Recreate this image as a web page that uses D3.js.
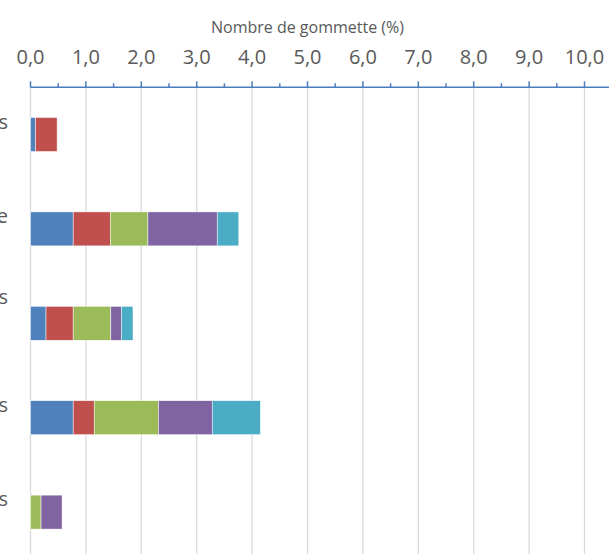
<!DOCTYPE html>
<html>
<head>
<meta charset="utf-8">
<script src="https://cdn.jsdelivr.net/npm/d3@7"></script>
<style>
  body { margin: 0; background: #fff; }
  text { font-family: "Open Sans", sans-serif; fill: #595959; }
</style>
</head>
<body>
<script>
// data
var categories = [
  ['Activités manuelles', 'et jeux'],
  ['Travail en autonomie', 'sur fiche'],
  ['Ateliers dirigés', 'en petits', 'groupes'],
  ['Regroupements', 'collectifs'],
  ['Temps de repas', 'et siestes']
];
var seriesNames = ['Série 1', 'Série 2', 'Série 3', 'Série 4', 'Série 5'];
var serie1 = [0.09, 0.77, 0.28, 0.77, 0];
var serie2 = [0.39, 0.67, 0.49, 0.38, 0];
var serie3 = [0, 0.68, 0.68, 1.16, 0.19];
var serie4 = [0, 1.25, 0.19, 0.97, 0.38];
var serie5 = [0, 0.39, 0.21, 0.87, 0];
var tickValues = [0, 1, 2, 3, 4, 5, 6, 7, 8, 9, 10, 11];
var colors = ['#4f81bd', '#c0504d', '#9bbb59', '#8064a2', '#4bacc6'];

// size
var width = 609, height = 554;
var margin = {top: 87.3, left: 30.5};

var svg = d3.select('body').append('svg')
    .attr('width', width)
    .attr('height', height);

// table for the stack
var table = categories.map(function(c, i) {
  return {cat: i, s0: serie1[i], s1: serie2[i], s2: serie3[i], s3: serie4[i], s4: serie5[i]};
});
var stack = d3.stack().keys(['s0', 's1', 's2', 's3', 's4']);
var layers = stack(table);

var x = d3.scaleLinear().domain([0, 11]).range([margin.left, margin.left + 55.4 * 11]);
var y = d3.scaleBand()
    .domain(d3.range(categories.length))
    .range([margin.top, margin.top + 94.4 * 5])
    .paddingInner(0.64)
    .paddingOuter(0.32);

// gridlines
svg.append('g')
  .selectAll('line')
  .data(tickValues)
  .enter().append('line')
    .attr('x1', function(d) { return x(d); })
    .attr('x2', function(d) { return x(d); })
    .attr('y1', margin.top)
    .attr('y2', height)
    .style('stroke', '#d9d9d9')
    .style('stroke-width', 1.25);

// bars
svg.selectAll('.layer')
  .data(layers)
  .enter().append('g')
    .attr('class', 'layer')
    .style('fill', function(d, i) { return colors[i]; })
  .selectAll('rect')
  .data(function(d) { return d; })
  .enter().append('rect')
    .filter(function(d) { return d[1] - d[0] > 0; })
    .attr('x', function(d) { return x(d[0]); })
    .attr('width', function(d) { return x(d[1]) - x(d[0]); })
    .attr('y', function(d) { return y(d.data.cat); })
    .attr('height', y.bandwidth())
    .style('stroke', '#fff')
    .style('stroke-width', 0.5);

// axis on top
var axis = svg.append('g')
    .attr('transform', 'translate(0,' + margin.top + ')');

axis.append('line')
    .attr('x1', x(0))
    .attr('x2', x(11))
    .style('stroke', '#4a7ebb')
    .style('stroke-width', 1.5);

axis.selectAll('.major')
  .data(tickValues)
  .enter().append('line')
    .attr('class', 'major')
    .attr('x1', function(d) { return x(d); })
    .attr('x2', function(d) { return x(d); })
    .attr('y1', 0)
    .attr('y2', -6)
    .style('stroke', '#4a7ebb')
    .style('stroke-width', 1.5);

axis.selectAll('.minor')
  .data(tickValues)
  .enter().append('line')
    .attr('class', 'minor')
    .attr('x1', function(d) { return x(d + 0.5); })
    .attr('x2', function(d) { return x(d + 0.5); })
    .attr('y1', 0)
    .attr('y2', -4)
    .style('stroke', '#4a7ebb')
    .style('stroke-width', 1.5);

axis.selectAll('.tlabel')
  .data(tickValues)
  .enter().append('text')
    .attr('class', 'tlabel')
    .attr('x', function(d) { return x(d); })
    .attr('y', -23)
    .attr('text-anchor', 'middle')
    .style('font-size', '20px')
    .text(function(d) { return d3.format('.1f')(d).replace('.', ','); });

// axis title
svg.append('text')
    .attr('x', x(5))
    .attr('y', 33)
    .attr('text-anchor', 'middle')
    .style('font-size', '16px')
    .text('Nombre de gommette (%)');

// category labels, centered, wrapped, clipped at the left
var lineH = 26;
var labels = svg.selectAll('.cat')
  .data(categories)
  .enter().append('text')
    .attr('class', 'cat')
    .style('font-size', '20px')
    .attr('text-anchor', 'middle');

labels.each(function(lines, i) {
  var t = d3.select(this);
  var cy = y(i) + y.bandwidth() / 2;
  var y0 = cy - (lines.length - 1) * lineH / 2 + 7;
  lines.forEach(function(l, j) {
    t.append('tspan').attr('x', 0).attr('y', y0 + j * lineH).text(l);
  });
  var w = d3.max(t.selectAll('tspan').nodes(), function(n) { return n.getComputedTextLength(); });
  t.selectAll('tspan').attr('x', 8 - w / 2);
});
</script>
</body>
</html>
